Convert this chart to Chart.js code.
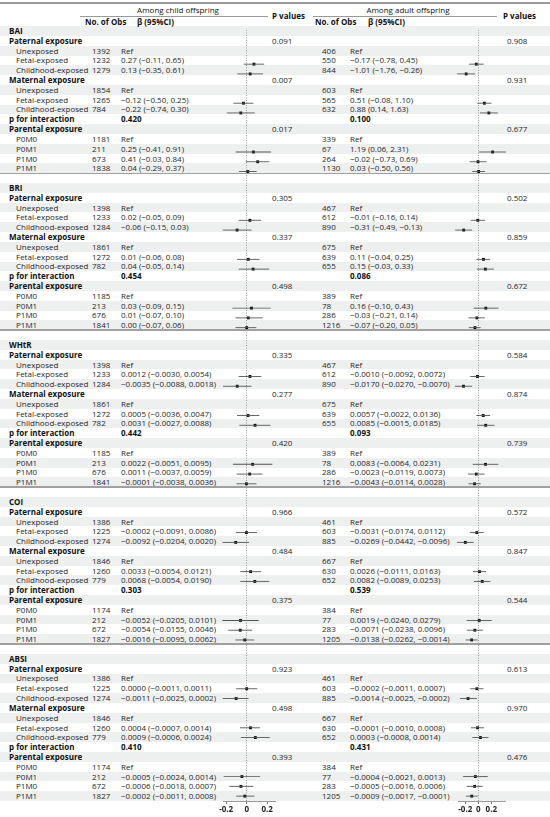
<!DOCTYPE html>
<html>
<head>
<meta charset="utf-8">
<script src="https://cdn.jsdelivr.net/npm/chart.js@4.4.1/dist/chart.umd.min.js"></script>
<style>
  body { margin: 0; background: #fff; }
  #page { position: relative; width: 550px; height: 817px; overflow: hidden; font-family: "Open Sans", sans-serif; font-size: 8px; color: #262626; }
  .t { position: absolute; white-space: nowrap; line-height: 12px; height: 12px; }
  .b { font-weight: bold; color: #111; }
  .stripe { position: absolute; left: 0; width: 550px; background: #eef0f0; }
  .hline { position: absolute; background: #999; }
  canvas { position: absolute; }
</style>
</head>
<body>
<div id="page"></div>
<script>
// ---- data ----
const metrics = ['BAI', 'BRI', 'WHtR', 'COI', 'ABSI'];
const decimals = [2, 2, 4, 4, 4];
const groupLabels = ['Unexposed', 'Fetal-exposed', 'Childhood-exposed', 'Unexposed', 'Fetal-exposed', 'Childhood-exposed', 'P0M0', 'P0M1', 'P1M0', 'P1M1'];

const childObs = [
    [1392, 1232, 1279, 1854, 1265, 784, 1181, 211, 673, 1838],
    [1398, 1233, 1284, 1861, 1272, 782, 1185, 213, 676, 1841],
    [1398, 1233, 1284, 1861, 1272, 782, 1185, 213, 676, 1841],
    [1386, 1225, 1274, 1846, 1260, 779, 1174, 212, 672, 1827],
    [1386, 1225, 1274, 1846, 1260, 779, 1174, 212, 672, 1827]
];
const childBeta = [
    [null, 0.27, 0.13, null, -0.12, -0.22, null, 0.25, 0.41, 0.04],
    [null, 0.02, -0.06, null, 0.01, 0.04, null, 0.03, 0.01, 0.00],
    [null, 0.0012, -0.0035, null, 0.0005, 0.0031, null, 0.0022, 0.0011, -0.0001],
    [null, -0.0002, -0.0092, null, 0.0033, 0.0068, null, -0.0052, -0.0054, -0.0016],
    [null, 0.0000, -0.0011, null, 0.0004, 0.0009, null, -0.0005, -0.0006, -0.0002]
];
const childLow = [
    [null, -0.11, -0.35, null, -0.50, -0.74, null, -0.41, -0.03, -0.29],
    [null, -0.05, -0.15, null, -0.06, -0.05, null, -0.09, -0.07, -0.07],
    [null, -0.0030, -0.0088, null, -0.0036, -0.0027, null, -0.0051, -0.0037, -0.0038],
    [null, -0.0091, -0.0204, null, -0.0054, -0.0054, null, -0.0205, -0.0155, -0.0095],
    [null, -0.0011, -0.0025, null, -0.0007, -0.0006, null, -0.0024, -0.0018, -0.0011]
];
const childHigh = [
    [null, 0.65, 0.61, null, 0.25, 0.30, null, 0.91, 0.84, 0.37],
    [null, 0.09, 0.03, null, 0.08, 0.14, null, 0.15, 0.10, 0.06],
    [null, 0.0054, 0.0018, null, 0.0047, 0.0088, null, 0.0095, 0.0059, 0.0036],
    [null, 0.0086, 0.0020, null, 0.0121, 0.0190, null, 0.0101, 0.0046, 0.0062],
    [null, 0.0011, 0.0002, null, 0.0014, 0.0024, null, 0.0014, 0.0007, 0.0008]
];
const childP = [
    ['0.091', '0.007', '0.017'],
    ['0.305', '0.337', '0.498'],
    ['0.335', '0.277', '0.420'],
    ['0.966', '0.484', '0.375'],
    ['0.923', '0.498', '0.393']
];
const childPInteraction = ['0.420', '0.454', '0.442', '0.303', '0.410'];

const adultObs = [
    [406, 550, 844, 603, 565, 632, 339, 67, 264, 1130],
    [467, 612, 890, 675, 639, 655, 389, 78, 286, 1216],
    [467, 612, 890, 675, 639, 655, 389, 78, 286, 1216],
    [461, 603, 885, 667, 630, 652, 384, 77, 283, 1205],
    [461, 603, 885, 667, 630, 652, 384, 77, 283, 1205]
];
const adultBeta = [
    [null, -0.17, -1.01, null, 0.51, 0.88, null, 1.19, -0.02, 0.03],
    [null, -0.01, -0.31, null, 0.11, 0.15, null, 0.16, -0.03, -0.07],
    [null, -0.0010, -0.0170, null, 0.0057, 0.0085, null, 0.0083, -0.0023, -0.0043],
    [null, -0.0031, -0.0269, null, 0.0026, 0.0082, null, 0.0019, -0.0071, -0.0138],
    [null, -0.0002, -0.0014, null, -0.0001, 0.0003, null, -0.0004, -0.0005, -0.0009]
];
const adultLow = [
    [null, -0.78, -1.76, null, -0.08, 0.14, null, 0.06, -0.73, -0.50],
    [null, -0.16, -0.49, null, -0.04, -0.03, null, -0.10, -0.21, -0.20],
    [null, -0.0092, -0.0270, null, -0.0022, -0.0015, null, -0.0064, -0.0119, -0.0114],
    [null, -0.0174, -0.0442, null, -0.0111, -0.0089, null, -0.0240, -0.0238, -0.0262],
    [null, -0.0011, -0.0025, null, -0.0010, -0.0008, null, -0.0021, -0.0016, -0.0017]
];
const adultHigh = [
    [null, 0.45, -0.26, null, 1.10, 1.63, null, 2.31, 0.69, 0.56],
    [null, 0.14, -0.13, null, 0.25, 0.33, null, 0.43, 0.14, 0.05],
    [null, 0.0072, -0.0070, null, 0.0136, 0.0185, null, 0.0231, 0.0073, 0.0028],
    [null, 0.0112, -0.0096, null, 0.0163, 0.0253, null, 0.0279, 0.0096, -0.0014],
    [null, 0.0007, -0.0002, null, 0.0008, 0.0014, null, 0.0013, 0.0006, -0.0001]
];
const adultP = [
    ['0.908', '0.931', '0.677'],
    ['0.502', '0.859', '0.672'],
    ['0.584', '0.874', '0.739'],
    ['0.572', '0.847', '0.544'],
    ['0.613', '0.970', '0.476']
];
const adultPInteraction = ['0.100', '0.086', '0.093', '0.539', '0.431'];

// SD of each outcome, used to put the estimates on a standardized axis
const childSD = [3.82, 0.64, 0.038, 0.0861, 0.0107];
const adultSD = [5.42, 1.38, 0.0747, 0.135, 0.0089];
const axisTicks = [-0.2, 0, 0.2];

// ---- layout ----
const PITCH = 9.81;
const TOP = 26.1;
const SECTION = 16;
const ROWS = 79;
const rowOffset = [2, 3, 4, 6, 7, 8, 11, 12, 13, 14];

const page = document.getElementById('page');

let jFPut = ({ text, x, y, bold, center, color }) => {
    let d = document.createElement('div');
    d.className = 't' + (bold ? ' b' : '');
    d.textContent = text;
    d.style.left = x + 'px';
    d.style.top = (y - 6) + 'px';
    if (center) d.style.transform = 'translateX(-50%)';
    if (color) d.style.color = color;
    page.appendChild(d);
};

let jFLine = (x, y, w, h, color) => {
    let d = document.createElement('div');
    d.className = 'hline';
    d.style.left = x + 'px';
    d.style.top = y + 'px';
    d.style.width = w + 'px';
    d.style.height = h + 'px';
    if (color) d.style.background = color;
    page.appendChild(d);
};

let jFFormat = (v, dp) => v.toFixed(dp).replace('-', '\u2212');

let rowY = r => TOP + r * PITCH + PITCH / 2;

// stripes
for (let r = 0; r < ROWS; r += 2) {
    let s = document.createElement('div');
    s.className = 'stripe';
    s.style.top = (TOP + r * PITCH) + 'px';
    s.style.height = PITCH + 'px';
    page.appendChild(s);
}

// header
jFLine(0, 2, 550, 2, '#9a9a9a');
jFPut({ text: 'Among child offspring', x: 178, y: 10, center: true, color: '#111' });
jFPut({ text: 'Among adult offspring', x: 408, y: 10, center: true, color: '#111' });
jFLine(80, 16, 188, 1, '#999');
jFLine(313, 16, 184, 1, '#999');
jFPut({ text: 'No. of Obs', x: 85, y: 22, bold: true });
jFPut({ text: '\u03b2 (95%CI)', x: 137, y: 22, bold: true });
jFPut({ text: 'No. of Obs', x: 315, y: 22, bold: true });
jFPut({ text: '\u03b2 (95%CI)', x: 368, y: 22, bold: true });
jFPut({ text: 'P values', x: 272, y: 16, bold: true });
jFPut({ text: 'P values', x: 503, y: 16, bold: true });

const ciChild = [], ptChild = [], ciAdult = [], ptAdult = [];

metrics.forEach((name, m) => {
    let base = m * SECTION;
    let dp = decimals[m];
    jFPut({ text: name, x: 9, y: rowY(base), bold: true });
    jFPut({ text: 'Paternal exposure', x: 9, y: rowY(base + 1), bold: true });
    jFPut({ text: 'Maternal exposure', x: 9, y: rowY(base + 5), bold: true });
    jFPut({ text: 'p for interaction', x: 9, y: rowY(base + 9), bold: true });
    jFPut({ text: 'Parental exposure', x: 9, y: rowY(base + 10), bold: true });

    [1, 5, 10].forEach((off, i) => {
        jFPut({ text: childP[m][i], x: 272, y: rowY(base + off) });
        jFPut({ text: adultP[m][i], x: 507, y: rowY(base + off) });
    });
    jFPut({ text: childPInteraction[m], x: 121, y: rowY(base + 9), bold: true });
    jFPut({ text: adultPInteraction[m], x: 350, y: rowY(base + 9), bold: true });

    groupLabels.forEach((lab, k) => {
        let r = base + rowOffset[k];
        let y = rowY(r);
        jFPut({ text: lab, x: 16, y: y });
        jFPut({ text: String(childObs[m][k]), x: 92, y: y });
        jFPut({ text: String(adultObs[m][k]), x: 322, y: y });
        let cb = childBeta[m][k];
        let ab = adultBeta[m][k];
        jFPut({ text: cb === null ? 'Ref' : jFFormat(cb, dp) + ' (' + jFFormat(childLow[m][k], dp) + ', ' + jFFormat(childHigh[m][k], dp) + ')', x: 121, y: y });
        jFPut({ text: ab === null ? 'Ref' : jFFormat(ab, dp) + ' (' + jFFormat(adultLow[m][k], dp) + ', ' + jFFormat(adultHigh[m][k], dp) + ')', x: 350, y: y });
        if (cb !== null) {
            ciChild.push({ y: r, x: [childLow[m][k] / childSD[m], childHigh[m][k] / childSD[m]] });
            ptChild.push({ y: r, x: cb / childSD[m] });
        }
        if (ab !== null) {
            ciAdult.push({ y: r, x: [adultLow[m][k] / adultSD[m], adultHigh[m][k] / adultSD[m]] });
            ptAdult.push({ y: r, x: ab / adultSD[m] });
        }
    });

    if (m < metrics.length - 1) jFLine(0, TOP + (base + 15) * PITCH - 0.75, 550, 1.5, '#a0a0a0');
});

// ---- forest plots ----
let jFForest = ({ left, width, padLeft, padRight, min, max, ci, pts }) => {
    let c = document.createElement('canvas');
    c.width = width;
    c.height = Math.round(ROWS * PITCH) + 16;
    c.style.left = left + 'px';
    c.style.top = TOP + 'px';
    page.appendChild(c);

    new Chart(c, {
        type: 'bar',
        data: {
            datasets: [
                { type: 'bar', data: ci, backgroundColor: '#555', barThickness: 0.9, inflateAmount: 0, borderWidth: 0, clip: false },
                { type: 'scatter', data: pts, pointStyle: 'rect', pointRadius: 2, backgroundColor: '#000', borderWidth: 0, clip: false }
            ]
        },
        options: {
            indexAxis: 'y',
            responsive: false,
            animation: false,
            events: [],
            layout: { padding: { left: padLeft, right: padRight, top: 0, bottom: 0 } },
            plugins: { legend: { display: false }, tooltip: { enabled: false } },
            scales: {
                x: {
                    type: 'linear',
                    offset: false,
                    min: min,
                    max: max,
                    afterBuildTicks: s => { s.ticks = axisTicks.map(v => ({ value: v })); },
                    afterFit: s => { s.height = 16; },
                    grid: {
                        color: ctx => (ctx.tick && ctx.tick.value === 0) ? '#999' : 'rgba(0,0,0,0)',
                        tickColor: '#777',
                        tickLength: 3
                    },
                    border: { display: true, color: '#999', dash: [1, 1.5] },
                    ticks: {
                        font: { family: 'Open Sans', size: 8, weight: 'bold' },
                        color: '#222',
                        padding: 1,
                        maxRotation: 0,
                        autoSkip: false,
                        callback: v => (v === 0 ? '0' : v.toFixed(1))
                    }
                },
                y: { type: 'linear', offset: false, reverse: true, min: -0.5, max: ROWS - 0.5, display: false }
            }
        }
    });
};

jFForest({ left: 200, width: 80, padLeft: 23, padRight: 5, min: -0.231, max: 0.276, ci: ciChild, pts: ptChild });
jFForest({ left: 430, width: 90, padLeft: 28, padRight: 15, min: -0.312, max: 0.411, ci: ciAdult, pts: ptAdult });
</script>
</body>
</html>
